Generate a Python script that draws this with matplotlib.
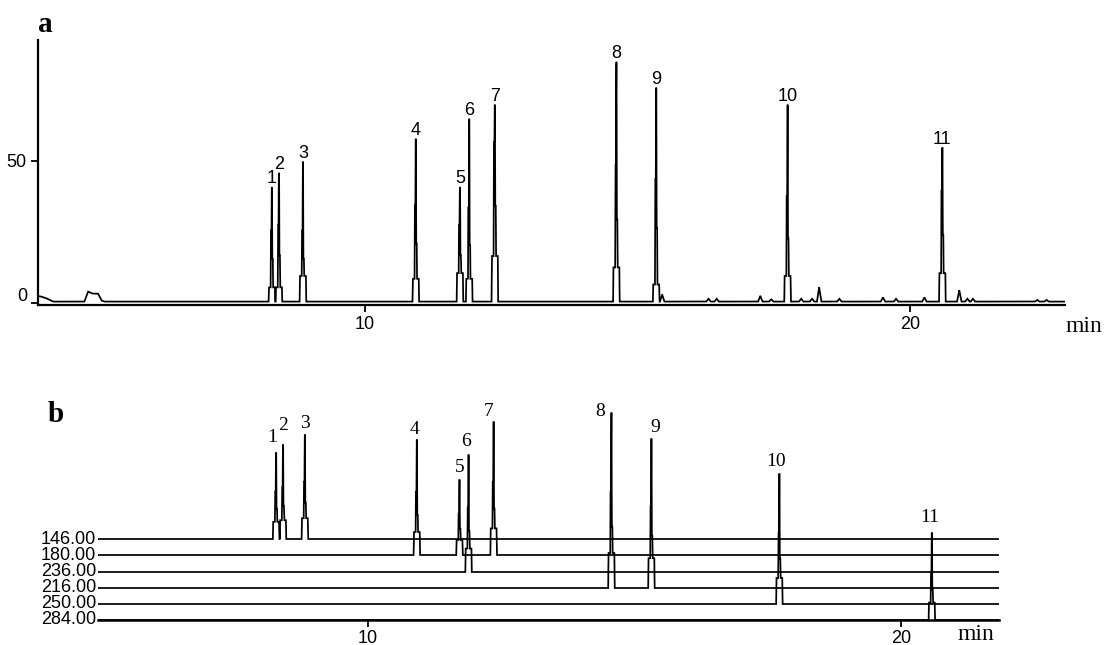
import numpy as np
import matplotlib
matplotlib.use("Agg")
import matplotlib.pyplot as plt
from matplotlib import transforms

# ---------------- data ----------------
peak_names = ["1", "2", "3", "4", "5", "6", "7", "8", "9", "10", "11"]

# panel a: total-ion style chromatogram
peak_times_a = [8.29, 8.42, 8.86, 10.93, 11.74, 11.91, 12.38, 14.61, 15.34, 17.75, 20.59]
peak_heights_a = [40, 45, 49, 57, 40, 64, 69, 84, 75, 69, 54]
peak_pedestal_a = [5, 5, 9, 8, 10, 8, 16, 12, 6, 9, 10]
peak_shoulder_a = [25, 27, 25, 34, 27, 33, 56, 48, 43, 37, 39]

minor_times_a = [15.45, 16.30, 16.45, 17.25, 17.45, 18.00, 18.20, 18.33, 18.70,
                 19.50, 19.74, 20.26, 20.90, 21.05, 21.15, 22.33, 22.50]
minor_heights_a = [2.5, 1.0, 1.0, 2.0, 0.8, 1.0, 1.0, 5.0, 1.0,
                   1.5, 1.0, 1.5, 4.0, 1.0, 1.0, 0.6, 0.6]

drift_times_a = [4.00, 4.05, 4.15, 4.22, 4.28, 4.85, 4.92, 5.00, 5.10, 5.17, 5.22, 22.84]
drift_values_a = [2.0, 1.8, 1.2, 0.5, 0.0, 0.0, 3.5, 2.8, 2.8, 0.3, 0.0, 0.0]

yticks_a = [0, 50]
xticks = [10, 20]

# panel b: multi-wavelength traces
channel_labels = ["146.00", "180.00", "236.00", "216.00", "250.00", "284.00"]
channel_offsets = [81, 65, 48, 32, 16, 0]
peak_times_b = [8.28, 8.41, 8.82, 10.92, 11.72, 11.89, 12.36, 14.57, 15.32, 17.72, 20.58]
peak_channel_b = [0, 0, 0, 1, 1, 2, 1, 3, 3, 4, 5]
peak_heights_b = [86, 94, 104, 115, 75, 117, 133, 175, 149, 130, 87]

# ---------------- layout / style ----------------
W, H = 1108, 645
fig = plt.figure(figsize=(W / 100, H / 100), dpi=100)
SANS = ["Liberation Sans", "DejaVu Sans"]
SERIF = ["Liberation Serif", "DejaVu Serif"]
PX = 0.72  # points per pixel


def peak_shape(t, t0, top, ped, sh, sh2):
    dt = np.array([-0.06, -0.055, -0.022, -0.018, -0.007, -0.003,
                   0.003, 0.007, 0.018, 0.022, 0.055, 0.06])
    f = np.array([0, ped, ped, sh, sh, top, top, sh2, sh2, ped, ped, 0])
    return np.interp(t, t0 + dt, f, left=0, right=0)


def bump(t, t0, h, w=0.04):
    return np.interp(t, [t0 - w, t0, t0 + w], [0, h, 0], left=0, right=0)


# ---------------- panel a ----------------
xa0, xa1 = 4.0, 22.84
axa = fig.add_axes([38 / W, 1 - 305 / H, 1027 / W, 265 / H])
ta = np.linspace(xa0, xa1, 24000)
sig = np.interp(ta, drift_times_a, drift_values_a) + 0.6
for t0, h, p, s in zip(peak_times_a, peak_heights_a, peak_pedestal_a, peak_shoulder_a):
    sig += peak_shape(ta, t0, h, p, s, 0.6 * s)
for t0, h in zip(minor_times_a, minor_heights_a):
    sig += bump(ta, t0, h)
axa.plot(ta, sig, color="black", lw=1.25, solid_joinstyle="miter")
axa.set_xlim(xa0, xa1)
axa.set_ylim(-0.6, 92.5)
for s in ["top", "right"]:
    axa.spines[s].set_visible(False)
for s in ["left", "bottom"]:
    axa.spines[s].set_linewidth(1.6)
axa.set_xticks(xticks)
axa.set_yticks(yticks_a)
axa.tick_params(axis="both", direction="out", length=5, width=1.3, pad=3,
                labelsize=13)
for lab in axa.get_xticklabels() + axa.get_yticklabels():
    lab.set_family(SANS)
# the "0" label sits a little above its tick in the reference
zero_lab = axa.get_yticklabels()[0]
zero_lab.set_transform(zero_lab.get_transform() +
                       transforms.ScaledTranslation(0, 9 / 100, fig.dpi_scale_trans))
for t0, h, name in zip(peak_times_a, peak_heights_a, peak_names):
    axa.annotate(name, (t0, h), xytext=(0, 2 * PX), textcoords="offset points",
                 ha="center", va="bottom", fontsize=13, family=SANS)
fig.text(1066 / W, 1 - 327 / H, "min", ha="left", va="center",
         fontsize=17, family=SERIF)
fig.text(38 / W, 1 - 24 / H, "a", ha="left", va="center",
         fontsize=21, family=SERIF, weight="bold")

# ---------------- panel b ----------------
xb0, xb1 = 4.94, 21.84
axb = fig.add_axes([98 / W, 1 - 620 / H, 901 / W, 220 / H])
tb = np.linspace(xb0, xb1, 22000)
traces = [np.full_like(tb, float(off)) for off in channel_offsets]
for t0, c, h in zip(peak_times_b, peak_channel_b, peak_heights_b):
    traces[c] = traces[c] + peak_shape(tb, t0, h, 0.2 * h, 0.55 * h, 0.35 * h)
for tr in traces:
    axb.plot(tb, tr, color="black", lw=1.25, solid_joinstyle="miter")
axb.set_xlim(xb0, xb1)
axb.set_ylim(0, 220)
for s in ["top", "right", "left"]:
    axb.spines[s].set_visible(False)
axb.spines["bottom"].set_linewidth(1.8)
axb.set_yticks([])
axb.set_xticks(xticks)
axb.tick_params(axis="x", direction="out", length=5, width=1.3, pad=2, labelsize=13)
for lab in axb.get_xticklabels():
    lab.set_family(SANS)
ytr = axb.get_yaxis_transform()
for lab, off in zip(channel_labels, channel_offsets):
    axb.text(-0.002, off, lab, transform=ytr, ha="right", va="center",
             fontsize=13, family=SANS, clip_on=False)

label_dx_b = [-4, 0, 0, -2, 0, -3, -5, -11, 4, -3, -2]
label_dy_b = [15, 20, 12, 11, 12, 13, 11, 1, 11, 12, 15]
for t0, c, h, name, dx, dy in zip(peak_times_b, peak_channel_b, peak_heights_b,
                                  peak_names, label_dx_b, label_dy_b):
    axb.annotate(name, (t0, channel_offsets[c] + h), xytext=(dx * PX, dy * PX),
                 textcoords="offset points", ha="center", va="center",
                 fontsize=14, family=SERIF, annotation_clip=False)
fig.text(958 / W, 1 - 634 / H, "min", ha="left", va="center",
         fontsize=17, family=SERIF)
fig.text(48 / W, 1 - 415 / H, "b", ha="left", va="center",
         fontsize=21, family=SERIF, weight="bold")

fig.savefig("out.png", dpi=100)
